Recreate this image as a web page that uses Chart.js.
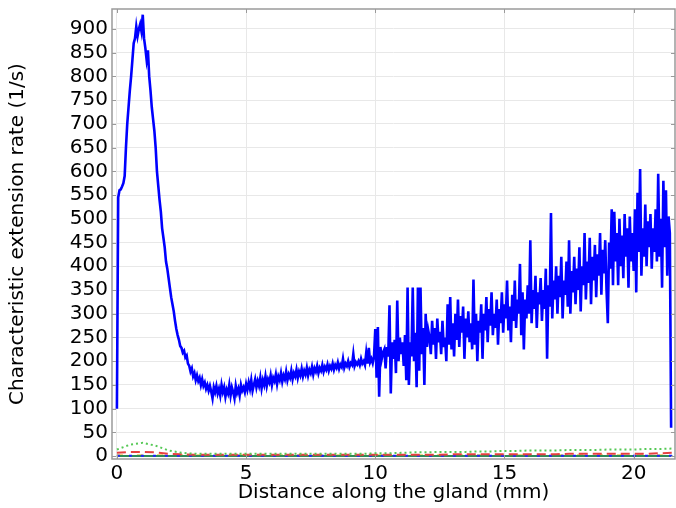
<!DOCTYPE html>
<html>
<head>
<meta charset="utf-8">
<script src="https://cdn.jsdelivr.net/npm/chart.js@4/dist/chart.umd.min.js"></script>
<style>
html,body{margin:0;padding:0;background:#fff;}
#wrap{width:676px;height:508px;}
</style>
</head>
<body>
<div id="wrap"><canvas id="c" width="676" height="508"></canvas></div>
<script>
// ---- Data ----
// Main series sampled every 0.05 mm from 0 mm
const mainStart = 0, mainStep = 0.05;
const mainRate = [
100,545,560,562,568,575,590,650,700,735,770,800,835,870,880,905,885,900,910,895,
930,880,860,835,855,800,770,735,710,685,650,600,570,540,515,480,460,440,410,395,
375,355,335,320,305,285,268,255,245,232,228,218,222,208,212,195,190,178,185,168,
175,160,170,158,165,150,162,148,155,142,150,138,148,136,122,145,135,148,132,142,
128,150,135,145,125,140,132,150,128,145,135,122,148,133,142,128,150,138,145,135,
152,140,155,142,160,138,150,162,145,158,148,165,143,160,150,168,148,162,155,170,
150,165,158,172,152,168,160,175,157,170,162,178,160,172,165,180,162,175,168,182,
165,178,170,184,168,180,172,186,170,182,175,188,172,185,178,190,175,186,180,192,
178,188,182,193,180,190,184,195,182,192,186,197,184,193,188,205,186,195,190,200,
188,196,192,215,190,198,193,200,192,205,195,200,192,218,195,228,198,205,196,210,
268,165,272,125,230,205,218,225,185,230,210,318,132,240,205,245,175,328,200,250,
215,240,190,255,160,355,150,240,210,355,200,260,145,355,180,355,215,270,150,300,
230,265,250,215,285,235,270,205,290,240,262,215,285,230,250,200,320,235,335,225,
280,210,300,245,330,230,295,260,315,205,290,250,305,240,280,225,372,235,300,200,
285,260,320,205,300,265,335,240,310,275,345,255,300,270,330,235,310,280,345,260,
320,290,370,265,315,240,340,285,370,270,330,300,405,255,345,225,330,290,360,300,
455,280,350,310,380,270,345,320,375,285,350,310,395,205,360,315,512,290,370,330,
400,300,380,335,420,290,370,340,410,315,455,300,390,345,420,320,395,350,440,305,
400,360,470,330,410,365,460,320,420,370,445,335,425,380,470,340,435,385,455,350,
280,450,395,520,360,515,410,470,360,500,400,465,375,510,420,480,355,505,410,470,
390,520,345,555,430,605,380,480,420,530,400,495,440,510,395,480,430,520,410,595,
420,500,355,580,440,560,380,505,470,60
];
// Minor series sampled every 0.5 mm from 0 mm
const minorStart = 0, minorStep = 0.5;
const greenDotted = [14,24,28,22,12,7,5,5,5,5,5,5,5,5,5,5,5,5,5,5,6,6,7,8,8,9,9,9,10,10,11,11,12,12,12,13,13,13,14,14,14,15,15,16];
const redDashed   = [7,9,9,8,5,4,3,3,3,3,3,3,3,3,3,3,3,3,3,3,3,3,3,3,3,3,4,4,4,4,4,4,4,4,4,5,5,5,5,5,5,5,6,7];
const blueDots    = [1,1,1,1,1,1,1,1,1,1,1,1,1,1,1,1,1,1,1,1,1,1,1,1,1,1,1,1,1,1,1,1,1,1,1,1,1,1,1,1,1,1,1,1];
const greenSolid  = [0.5,0.5,0.5,0.5,0.5,0.5,0.5,0.5,0.5,0.5,0.5,0.5,0.5,0.5,0.5,0.5,0.5,0.5,0.5,0.5,0.5,0.5,0.5,0.5,0.5,0.5,0.5,0.5,0.5,0.5,0.5,0.5,0.5,0.5,0.5,0.5,0.5,0.5,0.5,0.5,0.5,0.5,0.5,0.5];
const yellowDash  = [1.5,1.5,1.5,1.5,1.5,1.5,1.5,1.5,1.5,1.5,1.5,1.5,1.5,1.5,1.5,1.5,1.5,1.5,1.5,1.5,1.5,1.5,1.5,1.5,1.5,1.5,1.5,1.5,1.5,1.5,1.5,1.5,1.5,1.5,1.5,1.5,1.5,1.5,1.5,1.5,1.5,1.5,1.5,1.5];
const xTicks = [0,5,10,15,20];
const yTicks = [0,50,100,150,200,250,300,350,400,450,500,550,600,650,700,750,800,850,900];
const xTitle = 'Distance along the gland (mm)';
const yTitle = 'Characteristic extension rate (1/s)';

function pts(arr, start, step){ return arr.map((v,i)=>({x: +(start + i*step).toFixed(3), y: v})); }

const FONT = 'DejaVu Sans';

const framePlugin = {
  id: 'frame',
  afterDraw(chart){
    const {ctx, chartArea:{left,right,top,bottom}, scales:{x,y}} = chart;
    ctx.save();
    ctx.strokeStyle = '#9a9a9a';
    ctx.lineWidth = 1.5;
    ctx.strokeRect(left, top, right-left, bottom-top);
    ctx.lineWidth = 1;
    ctx.beginPath();
    yTicks.forEach(v=>{
      const py = Math.round(y.getPixelForValue(v))+0.5;
      ctx.moveTo(left, py); ctx.lineTo(left+4, py);
      ctx.moveTo(right-4, py); ctx.lineTo(right, py);
    });
    xTicks.forEach(v=>{
      const px = Math.round(x.getPixelForValue(v))+0.5;
      ctx.moveTo(px, bottom); ctx.lineTo(px, bottom-4);
      ctx.moveTo(px, top); ctx.lineTo(px, top+4);
    });
    ctx.stroke();
    ctx.restore();
  }
};

new Chart(document.getElementById('c'), {
  type: 'line',
  data: {
    datasets: [
      {data: pts(yellowDash, minorStart, minorStep), borderColor:'#e0b000', borderWidth:2, borderDash:[6,14], pointRadius:0, order:5},
      {data: pts(greenSolid, minorStart, minorStep), borderColor:'#2e8b57', borderWidth:2, pointRadius:0, order:4},
      {data: pts(blueDots, minorStart, minorStep), borderColor:'#2020ff', borderWidth:2, borderDash:[3,9], pointRadius:0, order:3},
      {data: pts(redDashed, minorStart, minorStep), borderColor:'#e84040', borderWidth:2, borderDash:[9,5], pointRadius:0, order:2},
      {data: pts(greenDotted, minorStart, minorStep), borderColor:'#55c855', borderWidth:2, borderDash:[2,3], pointRadius:0, order:1},
      {data: pts(mainRate, mainStart, mainStep), borderColor:'#0000ff', borderWidth:2.6, pointRadius:0, order:0}
    ]
  },
  options: {
    responsive: false,
    animation: false,
    events: [],
    layout: {padding: {top: 9, right: 1, left: 0, bottom: 0}},
    plugins: {legend:{display:false}, tooltip:{enabled:false}},
    scales: {
      x: {
        type: 'linear', min: -0.19, max: 21.6,
        afterBuildTicks(s){ s.ticks = xTicks.map(v=>({value:v})); },
        afterFit(s){ s.height = 49; s.paddingLeft = 0; s.paddingRight = 0; },
        grid: {color:'#e8e8e8', lineWidth:1, drawTicks:false},
        border: {display:false},
        ticks: {color:'#000', font:{family:FONT, size:20}, padding:3, maxRotation:0, autoSkip:false},
        title: {display:true, text:xTitle, color:'#000', font:{family:FONT, size:20}, padding:{top:0,bottom:3}}
      },
      y: {
        type: 'linear', min: -6, max: 942,
        afterBuildTicks(s){ s.ticks = yTicks.map(v=>({value:v})); },
        afterFit(s){ s.width = 112; s.paddingTop = 0; s.paddingBottom = 0; },
        grid: {color:'#e8e8e8', lineWidth:1, drawTicks:false},
        border: {display:false},
        ticks: {color:'#000', font:{family:FONT, size:20}, padding:4, autoSkip:false},
        title: {display:true, text:yTitle, color:'#000', font:{family:FONT, size:20}, padding:{top:6,bottom:0}}
      }
    }
  },
  plugins: [framePlugin]
});
</script>
</body>
</html>
